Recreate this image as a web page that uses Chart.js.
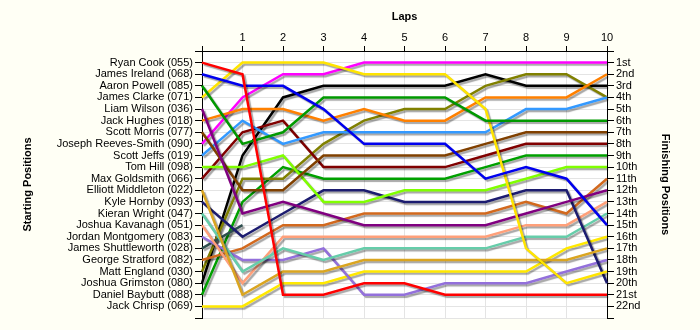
<!DOCTYPE html>
<html>
<head>
<meta charset="utf-8">
<script src="https://cdn.jsdelivr.net/npm/chart.js@4.4.1/dist/chart.umd.min.js"></script>
<style>
  html, body { margin: 0; padding: 0; background: #fffff5; }
</style>
</head>
<body>
<canvas id="lapChart" width="700" height="330"></canvas>
<script>
// Lap numbers along the top axis (lap 0 = grid)
const laps = ['0', '1', '2', '3', '4', '5', '6', '7', '8', '9', '10'];

// Drivers in starting order
const drivers = [
    'Ryan Cook (055)', 'James Ireland (068)', 'Aaron Powell (085)', 'James Clarke (071)',
    'Liam Wilson (036)', 'Jack Hughes (018)', 'Scott Morris (077)', 'Joseph Reeves-Smith (090)',
    'Scott Jeffs (019)', 'Tom Hill (098)', 'Max Goldsmith (066)', 'Elliott Middleton (022)',
    'Kyle Hornby (093)', 'Kieran Wright (047)', 'Joshua Kavanagh (051)', 'Jordan Montgomery (083)',
    'James Shuttleworth (028)', 'George Stratford (082)', 'Matt England (030)', 'Joshua Grimston (080)',
    'Daniel Baybutt (088)', 'Jack Chrisp (069)'
];

// Race position of each driver at the end of every lap (null = retired)
const positions = [
    [1, 2, 21, 21, 20, 20, 21, 21, 21, 21, 21],
    [2, 3, 3, 5, 8, 8, 8, 11, 10, 11, 15],
    [3, 8, 7, 4, 4, 4, 4, 6, 6, 6, 6],
    [4, 1, 1, 1, 2, 2, 2, 5, 17, 20, 19],
    [5, 14, 13, 14, 15, 15, 15, 15, 14, 13, 12],
    [6, 5, 5, 6, 5, 6, 6, 4, 4, 4, 2],
    [7, 12, 12, 9, 9, 9, 9, 8, 7, 7, 7],
    [8, 4, 2, 2, 1, 1, 1, 1, 1, 1, 1],
    [9, 6, 8, 7, 7, 7, 7, 7, 5, 5, 4],
    [10, 10, 9, 13, 13, 12, 12, 12, 11, 10, 10],
    [11, 7, 6, 10, 10, 10, 10, 9, 8, 8, 8],
    [12, 21, 19, 19, 18, 18, 18, 18, 18, 18, 17],
    [13, 16, 14, 12, 12, 13, 13, 13, 12, 12, 20],
    [14, 19, 17, 18, 17, 17, 17, 17, 16, 16, 14],
    [15, 20, 16, 16, 16, 16, 16, 16, 15, 15, 13],
    [16, 18, 18, 17, 21, 21, 20, 20, 20, 19, 18],
    [17, 15, null, null, null, null, null, null, null, null, null],
    [18, 17, 15, 15, 14, 14, 14, 14, 13, 14, 11],
    [19, 11, 11, 8, 6, 5, 5, 3, 2, 2, 4],
    [20, 9, 4, 3, 3, 3, 3, 2, 3, 3, 3],
    [21, 13, 10, 11, 11, 11, 11, 10, 9, 9, 9],
    [22, 22, 20, 20, 19, 19, 19, 19, 19, 17, 16]
];

// Right-hand axis labels
const finishLabels = [
    '1st', '2nd', '3rd', '4th', '5th', '6th', '7th', '8th', '9th', '10th', '11th',
    '12th', '13th', '14th', '15th', '16th', '17th', '18th', '19th', '20th', '21st', '22nd'
];

const lineColours = [
    '#ff0000', '#0000ee', '#009900', '#ffe400', '#800080', '#ff8000', '#804000', '#ff00ff',
    '#3399ff', '#80ff00', '#800000', '#daa520', '#1c1c70', '#66cdaa', '#ffa07a', '#9370db',
    '#2f4f4f', '#d2691e', '#808000', '#000000', '#00a000', '#ffe800'
];

const font = { family: "'Liberation Sans', Arial, sans-serif", size: 11 };
const boldFont = { family: "'Liberation Sans', Arial, sans-serif", size: 11, weight: 'bold' };
const gridColour = '#e4e4e4';

// Cream page, white plotting area
const plotBackground = {
    id: 'plotBackground',
    beforeDraw(chart) {
        const { ctx, chartArea: a } = chart;
        ctx.save();
        ctx.fillStyle = '#fffff5';
        ctx.fillRect(0, 0, chart.width, chart.height);
        ctx.fillStyle = '#ffffff';
        ctx.fillRect(a.left, a.top, a.right - a.left, a.bottom - a.top);
        ctx.restore();
    }
};

// Soft drop shadow under every line
const lineShadow = {
    id: 'lineShadow',
    beforeDatasetDraw(chart) {
        const ctx = chart.ctx;
        ctx.save();
        ctx.shadowColor = 'rgba(0, 0, 0, 0.35)';
        ctx.shadowOffsetX = 2;
        ctx.shadowOffsetY = 2;
        ctx.shadowBlur = 1;
    },
    afterDatasetDraw(chart) {
        chart.ctx.restore();
    }
};

const datasets = drivers.map((name, i) => ({
    label: name,
    data: positions[i],
    borderColor: lineColours[i],
    backgroundColor: lineColours[i],
    borderWidth: 2.5,
    pointRadius: 0,
    tension: 0,
    fill: false
}));

new Chart(document.getElementById('lapChart'), {
    type: 'line',
    data: { labels: laps, datasets },
    plugins: [plotBackground, lineShadow],
    options: {
        responsive: false,
        animation: false,
        devicePixelRatio: 1,
        layout: { padding: { top: 0, left: 0, right: 0, bottom: 12 } },
        plugins: {
            legend: { display: false },
            tooltip: { enabled: false }
        },
        scales: {
            x: {
                type: 'category',
                position: 'top',
                offset: false,
                grid: { color: gridColour, tickColor: '#000', tickLength: 5 },
                border: { color: '#000' },
                ticks: {
                    color: '#000', font, padding: 1, autoSkip: false, maxRotation: 0,
                    callback: (v, i) => (i === 0 ? '' : laps[i])
                },
                title: { display: true, text: 'Laps', color: '#000', font: boldFont, padding: { top: 10, bottom: 0 } },
                afterFit: s => { s.height = 51; }
            },
            y: {
                type: 'linear',
                position: 'left',
                reverse: true,
                min: 0,
                max: 23,
                grid: { color: gridColour, tickColor: '#000', tickLength: 7 },
                border: { color: '#000' },
                ticks: {
                    stepSize: 1, maxTicksLimit: 30, autoSkip: false, padding: 2, color: '#000', font,
                    callback: v => drivers[v - 1] || ''
                },
                title: { display: true, text: 'Starting Positions', color: '#000', font: boldFont, padding: { top: 21, bottom: 0 } },
                afterFit: s => { s.width = 202; }
            },
            y2: {
                type: 'linear',
                position: 'right',
                reverse: true,
                min: 0,
                max: 23,
                grid: { drawOnChartArea: false, tickColor: '#000', tickLength: 7 },
                border: { color: '#000' },
                ticks: {
                    stepSize: 1, maxTicksLimit: 30, autoSkip: false, padding: 2, color: '#000', font,
                    callback: v => finishLabels[v - 1] || ''
                },
                title: { display: true, text: 'Finishing Positions', color: '#000', font: boldFont, padding: { top: 28, bottom: 0 } },
                afterFit: s => { s.width = 93; }
            }
        }
    }
});
</script>
</body>
</html>
